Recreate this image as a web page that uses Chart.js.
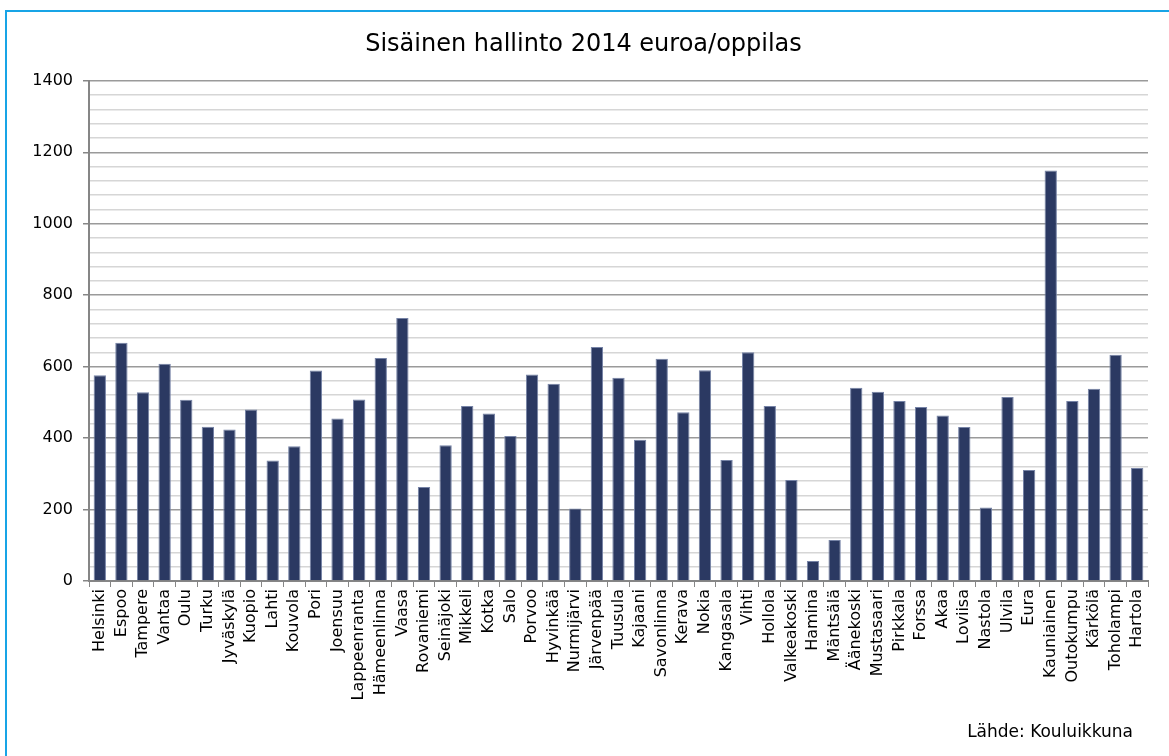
<!DOCTYPE html>
<html>
<head>
<meta charset="utf-8">
<script src="https://cdn.jsdelivr.net/npm/chart.js@4"></script>
<style>
  body { margin: 0; background: #fff; }
  #wrap { position: relative; width: 1169px; height: 756px; overflow: hidden; font-family: "DejaVu Sans", Verdana, sans-serif; }
  #frame { position: absolute; left: 5px; top: 10px; width: 2000px; height: 2000px; border-left: 2.5px solid #18a4e6; border-top: 2.5px solid #18a4e6; }
  #source { position: absolute; right: 36px; top: 721px; font-size: 17px; line-height: 20px; color: #000; }
  canvas { position: absolute; left: 0; top: 0; }
</style>
</head>
<body>
<div id="wrap">
  <div id="frame"></div>
  <canvas id="chart" width="1169" height="756"></canvas>
  <div id="source">Lähde: Kouluikkuna</div>
</div>
<script>
const municipalities = [
  'Helsinki', 'Espoo', 'Tampere', 'Vantaa', 'Oulu', 'Turku', 'Jyväskylä', 'Kuopio', 'Lahti', 'Kouvola',
  'Pori', 'Joensuu', 'Lappeenranta', 'Hämeenlinna', 'Vaasa', 'Rovaniemi', 'Seinäjoki', 'Mikkeli', 'Kotka', 'Salo',
  'Porvoo', 'Hyvinkää', 'Nurmijärvi', 'Järvenpää', 'Tuusula', 'Kajaani', 'Savonlinna', 'Kerava', 'Nokia', 'Kangasala',
  'Vihti', 'Hollola', 'Valkeakoski', 'Hamina', 'Mäntsälä', 'Äänekoski', 'Mustasaari', 'Pirkkala', 'Forssa', 'Akaa',
  'Loviisa', 'Nastola', 'Ulvila', 'Eura', 'Kauniainen', 'Outokumpu', 'Kärkölä', 'Toholampi', 'Hartola'
]

// euroa/oppilas
const costPerPupil = [
  576, 667, 528, 608, 507, 432, 424, 480, 337, 377,
  589, 455, 508, 624, 736, 263, 380, 490, 469, 406,
  578, 552, 203, 655, 569, 395, 622, 472, 590, 339,
  640, 490, 283, 56, 115, 541, 530, 504, 487, 463,
  431, 206, 515, 311, 1149, 504, 538, 633, 316
]

const yTicks = [0, 200, 400, 600, 800, 1000, 1200, 1400]

const axisGray = '#868686'
const majorGrid = '#9a9a9a'
const minorGrid = '#d6d6d6'
const fontFamily = '"DejaVu Sans", Verdana, sans-serif'

const isMajor = (v) => yTicks.includes(v)

new Chart(document.getElementById('chart'), {
  type: 'bar',
  data: {
    labels: municipalities,
    datasets: [
      {
        label: 'Sisäinen hallinto',
        data: costPerPupil,
        backgroundColor: '#2b3962',
        borderColor: '#7683a6',
        borderWidth: 1,
        barPercentage: 0.57,
        categoryPercentage: 1,
      },
    ],
  },
  options: {
    responsive: false,
    animation: false,
    devicePixelRatio: 1,
    layout: {
      padding: { left: 19, right: 21, top: 0, bottom: 38 },
    },
    plugins: {
      legend: { display: false },
      tooltip: { enabled: false },
      title: {
        display: true,
        text: 'Sisäinen hallinto 2014 euroa/oppilas',
        color: '#000',
        font: { family: fontFamily, size: 24, weight: 'normal' },
        padding: { top: 30, bottom: 22 },
      },
    },
    scales: {
      x: {
        afterFit: (scale) => {
          scale.height = 137
        },
        grid: {
          offset: true,
          drawOnChartArea: false,
          drawTicks: true,
          tickLength: 6,
          color: axisGray,
        },
        border: { color: axisGray, width: 2 },
        ticks: {
          autoSkip: false,
          maxRotation: 90,
          minRotation: 90,
          padding: 2,
          color: '#000',
          font: { family: fontFamily, size: 16 },
        },
      },
      y: {
        min: 0,
        max: 1400,
        afterFit: (scale) => {
          scale.width = 70
        },
        grid: {
          color: (ctx) => (isMajor(ctx.tick.value) ? majorGrid : minorGrid),
          tickColor: (ctx) => (isMajor(ctx.tick.value) ? axisGray : 'rgba(0,0,0,0)'),
          tickLength: 6,
          lineWidth: 1.5,
        },
        border: { color: axisGray, width: 2 },
        ticks: {
          stepSize: 40,
          autoSkip: false,
          padding: 10,
          color: '#000',
          font: { family: fontFamily, size: 16 },
          callback: (v) => (isMajor(v) ? v : ''),
        },
      },
    },
  },
})
</script>
</body>
</html>
